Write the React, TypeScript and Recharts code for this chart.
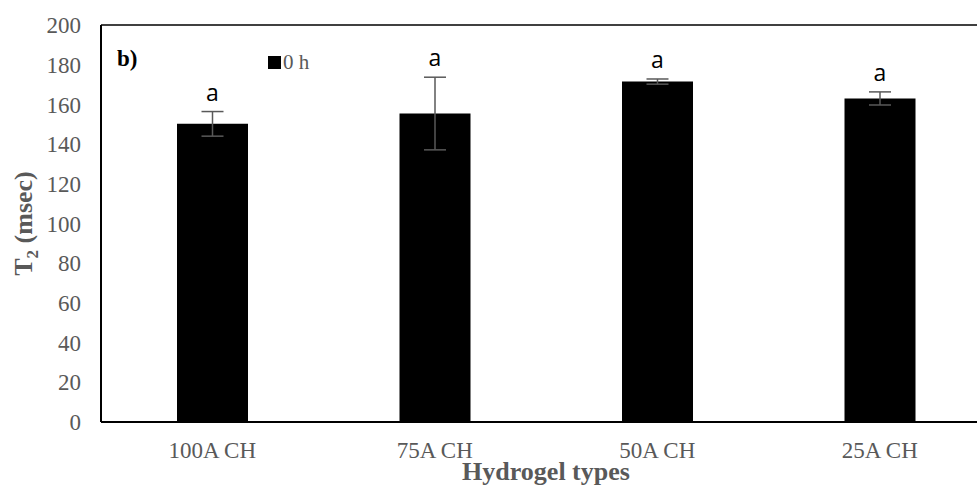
import { Bar, BarChart, ErrorBar, LabelList, Legend, ReferenceLine, XAxis, YAxis } from "recharts";

const categories = ["100A CH", "75A CH", "50A CH", "25A CH"];
const t2Values = [150.2, 155.4, 171.5, 163.0];
const t2Errors = [6.2, 18.3, 1.3, 3.3];
const letters = ["a", "a", "a", "a"];
const yTicks = [0, 20, 40, 60, 80, 100, 120, 140, 160, 180, 200];

const data = categories.map((name, i) => ({
  name,
  t2: t2Values[i],
  err: t2Errors[i],
  letter: letters[i],
}));

const serif = '"Liberation Serif", "Times New Roman", serif';
const grey = "#595959";

function LetterLabel(props: any) {
  const { x, y, width, height, value, index } = props;
  const perUnit = height / t2Values[index];
  const errTop = y - t2Errors[index] * perUnit;
  return (
    <text
      x={x + width / 2}
      y={errTop - 11}
      textAnchor="middle"
      fontFamily='"Open Sans", sans-serif'
      fontSize={23}
      fill="#000"
    >
      {value}
    </text>
  );
}

function LegendBox(props: any) {
  const item = props.payload && props.payload[0];
  return (
    <div style={{ display: "flex", alignItems: "center", fontFamily: serif, fontSize: 21, color: grey, lineHeight: "22px" }}>
      <span style={{ display: "inline-block", width: 13, height: 13, background: "#000", marginRight: 2 }} />
      {item ? item.value : "0 h"}
    </div>
  );
}

export default function App() {
  return (
    <div style={{ width: 977, height: 487, overflow: "hidden", background: "#fff" }}>
      <style>{"body{margin:0;overflow:hidden}"}</style>
      <BarChart
        width={1000}
        height={487}
        data={data}
        margin={{ top: 25, right: 9, bottom: 15, left: 21 }}
        barSize={71}
      >
        <XAxis
          dataKey="name"
          height={50}
          tickLine={false}
          tickSize={0}
          tickMargin={20}
          axisLine={{ stroke: "#000", strokeWidth: 2 }}
          tick={{ fontFamily: serif, fontSize: 23, fill: grey }}
          label={{
            content: (p: any) => {
              const vb = p.viewBox || {};
              return (
                <text
                  x={vb.x + vb.width / 2}
                  y={480}
                  textAnchor="middle"
                  fontFamily={serif}
                  fontWeight="bold"
                  fontSize={26}
                  fill={grey}
                >
                  Hydrogel types
                </text>
              );
            },
          }}
        />
        <YAxis
          width={80}
          domain={[0, 200]}
          ticks={yTicks}
          interval={0}
          tickLine={false}
          tickSize={0}
          tickMargin={20}
          axisLine={{ stroke: "#000", strokeWidth: 2 }}
          tick={{ fontFamily: serif, fontSize: 23, fill: grey }}
          label={{
            content: (p: any) => {
              const vb = p.viewBox || {};
              const cy = vb.y + vb.height / 2;
              return (
                <text
                  x={32}
                  y={cy}
                  transform={`rotate(-90 32 ${cy})`}
                  textAnchor="middle"
                  fontFamily={serif}
                  fontWeight="bold"
                  fontSize={26}
                  fill={grey}
                >
                  T<tspan dy={6} fontSize={17}>2</tspan>
                  <tspan dy={-6}> (msec)</tspan>
                </text>
              );
            },
          }}
        />
        <ReferenceLine
          y={200}
          stroke="#000"
          strokeWidth={1.5}
          label={{
            content: (p: any) => {
              const vb = p.viewBox || {};
              return (
                <text x={vb.x + 16} y={vb.y + 41} fontFamily={serif} fontWeight="bold" fontSize={23} fill="#000">
                  b)
                </text>
              );
            },
          }}
        />
        <Legend
          layout="horizontal"
          verticalAlign="middle"
          align="center"
          wrapperStyle={{ left: 268, top: 51, width: "auto" }}
          content={LegendBox}
        />
        <Bar dataKey="t2" name="0 h" fill="#000" isAnimationActive={false}>
          <ErrorBar dataKey="err" width={11} stroke={grey} strokeWidth={1.5} />
          <LabelList dataKey="letter" content={LetterLabel} />
        </Bar>
      </BarChart>
    </div>
  );
}
